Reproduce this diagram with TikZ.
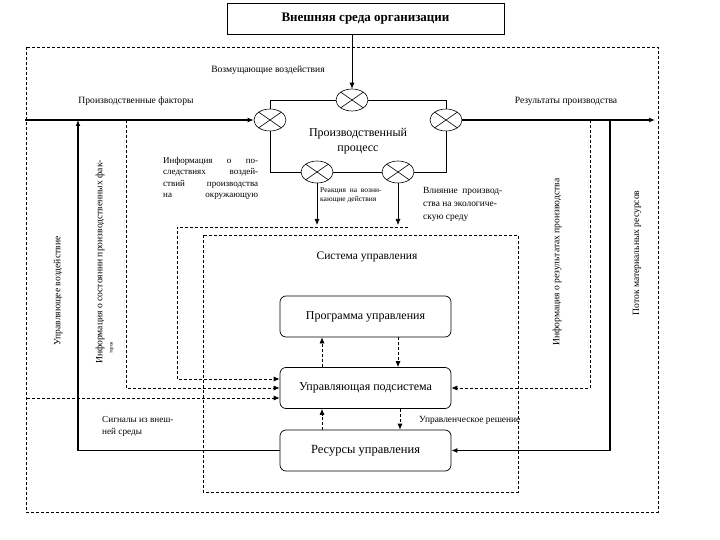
\documentclass[tikz,border=0pt]{standalone}
\usepackage{fontspec}
\setmainfont{Liberation Serif}
\usetikzlibrary{arrows.meta,shapes.geometric,calc}
\begin{document}
\begin{tikzpicture}[x=1pt,y=-1pt,
 box/.style={draw,line width=0.7pt,rounded corners=6pt,minimum width=171pt,minimum height=41pt,inner sep=0pt,font=\fontsize{12}{14}\selectfont},
 mix/.style={draw,ellipse,minimum width=32pt,minimum height=22pt,inner sep=0pt,line width=0.6pt},
 thickln/.style={line width=1.6pt},
 thinln/.style={line width=0.7pt},
 dsh/.style={dash pattern=on 3pt off 2pt, line width=0.7pt},
 tip/.style={-{Latex[length=6pt,width=5pt]}},
 lbl/.style={font=\fontsize{9.6}{11}\selectfont, inner sep=0pt},
]
\useasboundingbox (0,0) rectangle (720,540);
\fill[white] (0,0) rectangle (720,540);

% outer and inner dashed frames
\draw[dsh] (26,47) rectangle (658,512);
\draw[dsh] (203,235) rectangle (518,492);

% title
\node[draw,line width=0.8pt,minimum width=277pt,minimum height=31pt,inner sep=0pt,
      font=\fontsize{13}{15}\selectfont\bfseries] (title) at (365.5,18.5) {Внешняя среда организации};

% mixers
\node[mix] (c1) at (352,100) {};
\node[mix] (c2) at (270,120) {};
\node[mix] (c3) at (446,120) {};
\node[mix] (c4) at (317,172) {};
\node[mix] (c5) at (398,172) {};
\foreach \n in {c1,c2,c3,c4,c5}{
  \draw[line width=0.6pt] (\n.north west) -- (\n.south east) (\n.north east) -- (\n.south west);
}

% process box edges
\draw[thinln] (c2.north) |- (c1.west);
\draw[thinln] (c1.east) -| (c3.north);
\draw[thinln] (c2.south) |- (c4.west);
\draw[thinln] (c4.east) -- (c5.west);
\draw[thinln] (c5.east) -| (c3.south);
\node[font=\fontsize{12}{15}\selectfont,align=center,inner sep=0pt] (proc) at (358,141) {Производственный\\процесс};

% control boxes
\node[box] (prog) at (365.5,316.5) {Программа управления};
\node[box] (upr) at (365.5,388) {Управляющая подсистема};
\node[box,font=\fontsize{12.5}{14}\selectfont] (res) at (365.5,450.5) {Ресурсы управления};

% coordinates
\coordinate (inL) at (25,120);
\coordinate (outR) at (655,120);
\coordinate (j1) at (78,120);
\coordinate (j2) at (610,120);
\coordinate (j3) at (126,120);
\coordinate (j4) at (590,120);
\coordinate (t1) at (317,225);
\coordinate (t2) at (398,225);
\coordinate (d1) at (408,227);
\coordinate (d2) at (177,227);
\coordinate (d3) at (27,398);
\coordinate (ua) at ($(upr.west)+(0,-9)$);
\coordinate (ub) at ($(upr.west)+(0,10)$);

% main flow
\draw[thickln,tip] (inL) -- (c2.west);
\draw[thickln,tip] (c3.east) -- (outR);
\draw[thinln,tip] (title.south -| c1) -- (c1.north);

% feedback thick lines
\draw[thickln,tip] (res.west) -| (j1);
\draw[thickln,tip] (j2) |- (res.east);

% arrows from bottom mixers
\draw[thinln,tip] (c4.south) -- (t1);
\draw[thinln,tip] (c5.south) -- (t2);

% dashed information flows
\draw[dsh,tip] (j3) |- (upr.west);
\draw[dsh,tip] (j4) |- (upr.east);
\draw[dsh,tip] (d1) -- (d2) |- (ua);
\draw[dsh,tip] (d3) -- (ub);

\draw[dsh,tip] (upr.north -| 322,0) -- (prog.south -| 322,0);
\draw[dsh,tip] (prog.south -| 398,0) -- (upr.north -| 398,0);
\draw[dsh,tip] (res.north -| 322,0) -- (upr.south -| 322,0);
\draw[dsh,tip] (upr.south -| 400,0) -- (res.north -| 400,0);

% labels
\node[lbl] (l1) at (268,70) {Возмущающие воздействия};
\node[lbl] (l2) at (136,101) {Производственные факторы};
\node[lbl] (l3) at (566,101) {Результаты производства};
\node[lbl,font=\fontsize{9}{11.5}\selectfont,text width=95pt,anchor=north west,align=left] (l4) at (163,157)
 {Информация\hfill о\hfill по-\\следствиях\hfill воздей-\\ствий\hfill производства\\на\hfill окружающую};
\node[lbl,font=\fontsize{7.5}{9.5}\selectfont,anchor=north west,align=left] (l5) at (320,187) {Реакция\ \ на\ \ возни-\\кающие действия};
\node[lbl,font=\fontsize{9.4}{13}\selectfont,anchor=north west,align=left] (l6) at (423,187) {Влияние\ \ производ-\\ства на экологиче-\\скую среду};
\node[lbl,font=\fontsize{11.5}{13}\selectfont] (l7) at (367,257) {Система управления};
\node[lbl,font=\fontsize{9.4}{11}\selectfont,anchor=west] (l8) at (419,420) {Управленческое решение};
\node[lbl,font=\fontsize{9.2}{12}\selectfont,anchor=north west,align=left] (l9) at (102,416) {Сигналы из внеш-\\ней среды};
\node[lbl,rotate=90] (l10) at (58,291) {Управляющее воздействие};
\node[lbl,rotate=90] (l11) at (100,262) {Информация о состоянии производственных фак-};
\node[lbl,rotate=90,font=\fontsize{5}{6}\selectfont] (l12) at (112,348) {торов};
\node[lbl,rotate=90] (l13) at (557,262) {Информация о результатах производства};
\node[lbl,rotate=90] (l14) at (637,253) {Поток материальных ресурсов};
\end{tikzpicture}
\end{document}
